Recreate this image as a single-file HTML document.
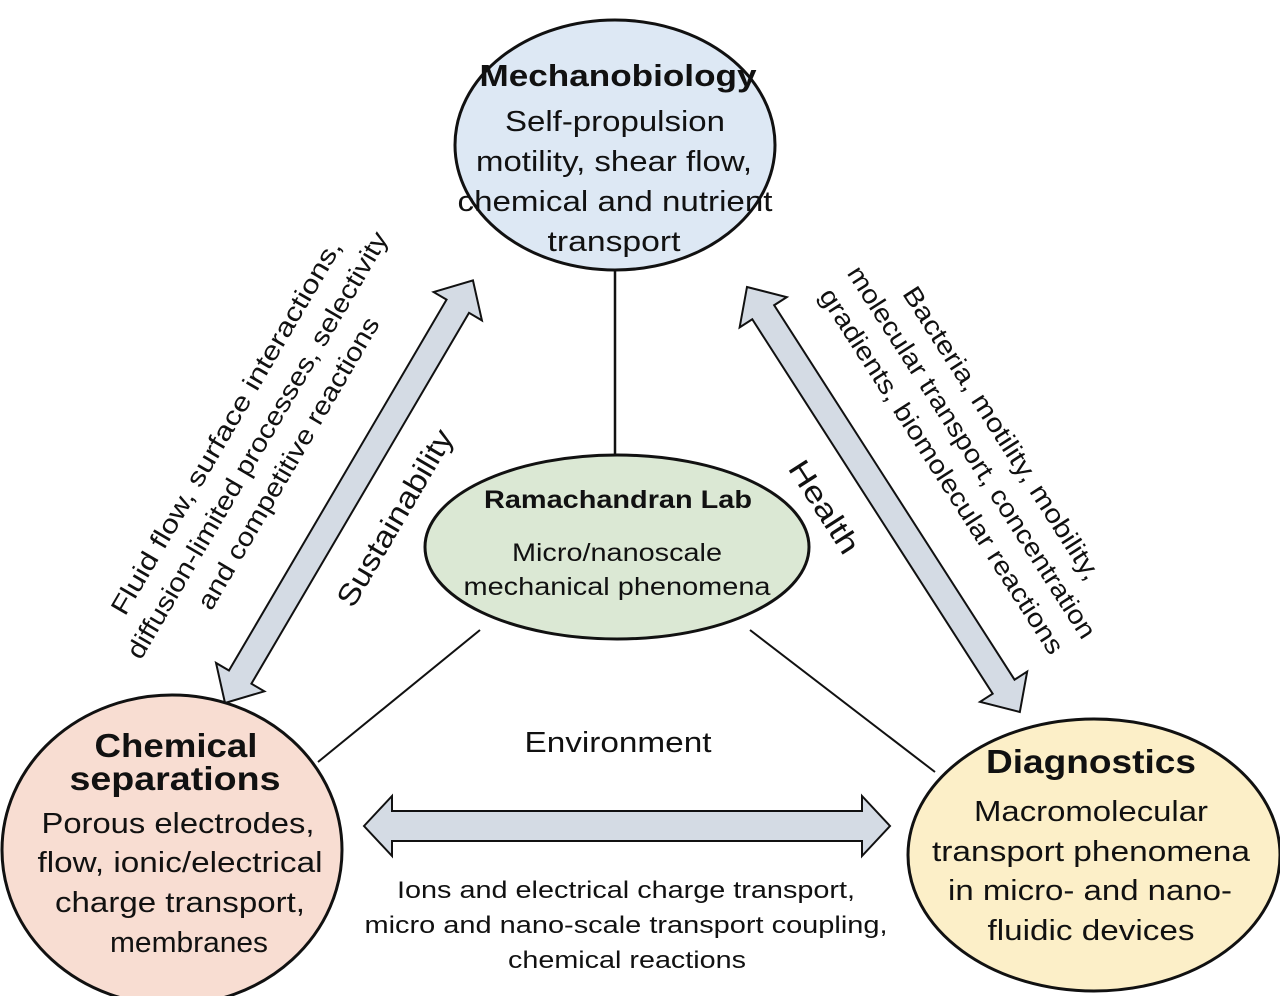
<!DOCTYPE html>
<html><head><meta charset="utf-8"><style>
html,body{margin:0;padding:0;background:#fff}
svg{display:block}
text{font-family:"Liberation Sans",Arial,sans-serif;fill:#111}
</style></head><body>
<svg width="1280" height="996" viewBox="0 0 1280 996" xmlns="http://www.w3.org/2000/svg">
<line x1="615" y1="268" x2="615" y2="458" stroke="#111" stroke-width="2.5"/>
<line x1="480" y1="630" x2="318" y2="762" stroke="#111" stroke-width="2"/>
<line x1="750" y1="630" x2="935" y2="772" stroke="#111" stroke-width="2"/>

<g fill="#d4dbe4" stroke="#111" stroke-width="2" stroke-linejoin="miter">
<polygon transform="translate(225,703) rotate(-59.6)" points="0,0 30,-28 30,-13 460,-13 460,-28 490,0 460,28 460,13 30,13 30,28"/>
<polygon transform="translate(747,287) rotate(57.3)" points="0,0 30,-28 30,-13 475,-13 475,-28 505,0 475,28 475,13 30,13 30,28"/>
<polygon transform="translate(364,826)" points="0,0 28,-30 28,-15 498,-15 498,-30 526,0 498,30 498,15 28,15 28,30"/>
</g>

<ellipse cx="615" cy="145" rx="160" ry="125" fill="#dde8f4" stroke="#111" stroke-width="3"/>
<ellipse cx="617" cy="547" rx="192" ry="92" fill="#dbe8d4" stroke="#111" stroke-width="3"/>
<ellipse cx="172" cy="850" rx="170" ry="155" fill="#f8ddd2" stroke="#111" stroke-width="3"/>
<ellipse cx="1094" cy="855" rx="186" ry="136" fill="#fcefc8" stroke="#111" stroke-width="3"/>

<g text-anchor="middle">
<text x="618" y="86" font-size="31" font-weight="bold" textLength="277" lengthAdjust="spacingAndGlyphs">Mechanobiology</text>
<text x="615" y="131" font-size="29" textLength="220" lengthAdjust="spacingAndGlyphs">Self-propulsion</text>
<text x="614" y="171" font-size="29" textLength="276" lengthAdjust="spacingAndGlyphs">motility, shear flow,</text>
<text x="615" y="211" font-size="29" textLength="315" lengthAdjust="spacingAndGlyphs">chemical and nutrient</text>
<text x="614" y="251" font-size="29" textLength="133" lengthAdjust="spacingAndGlyphs">transport</text>

<text x="618" y="508" font-size="25" font-weight="bold" textLength="268" lengthAdjust="spacingAndGlyphs">Ramachandran Lab</text>
<text x="617" y="561" font-size="25" textLength="210" lengthAdjust="spacingAndGlyphs">Micro/nanoscale</text>
<text x="617" y="595" font-size="25" textLength="307" lengthAdjust="spacingAndGlyphs">mechanical phenomena</text>

<text x="176" y="757" font-size="33" font-weight="bold" textLength="163" lengthAdjust="spacingAndGlyphs">Chemical</text>
<text x="175" y="790" font-size="33" font-weight="bold" textLength="211" lengthAdjust="spacingAndGlyphs">separations</text>
<text x="178" y="833" font-size="29" textLength="273" lengthAdjust="spacingAndGlyphs">Porous electrodes,</text>
<text x="180" y="872" font-size="29" textLength="285" lengthAdjust="spacingAndGlyphs">flow, ionic/electrical</text>
<text x="180" y="912" font-size="29" textLength="250" lengthAdjust="spacingAndGlyphs">charge transport,</text>
<text x="189" y="952" font-size="29" textLength="158" lengthAdjust="spacingAndGlyphs">membranes</text>

<text x="1091" y="773" font-size="33" font-weight="bold" textLength="210" lengthAdjust="spacingAndGlyphs">Diagnostics</text>
<text x="1091" y="821" font-size="29" textLength="234" lengthAdjust="spacingAndGlyphs">Macromolecular</text>
<text x="1091" y="861" font-size="29" textLength="318" lengthAdjust="spacingAndGlyphs">transport phenomena</text>
<text x="1090" y="900" font-size="29" textLength="284" lengthAdjust="spacingAndGlyphs">in micro- and nano-</text>
<text x="1091" y="940" font-size="29" textLength="207" lengthAdjust="spacingAndGlyphs">fluidic devices</text>

<text x="618" y="752" font-size="29" textLength="187" lengthAdjust="spacingAndGlyphs">Environment</text>
<text x="626" y="898" font-size="24" textLength="458" lengthAdjust="spacingAndGlyphs">Ions and electrical charge transport,</text>
<text x="626" y="933" font-size="24" textLength="523" lengthAdjust="spacingAndGlyphs">micro and nano-scale transport coupling,</text>
<text x="627" y="968" font-size="24" textLength="238" lengthAdjust="spacingAndGlyphs">chemical reactions</text>

<text transform="translate(226,427) rotate(-59.6)" y="9" font-size="26" textLength="430" lengthAdjust="spacingAndGlyphs">Fluid flow, surface interactions,</text>
<text transform="translate(257,445) rotate(-59.6)" y="9" font-size="26" textLength="490" lengthAdjust="spacingAndGlyphs">diffusion-limited processes, selectivity</text>
<text transform="translate(288,463) rotate(-59.6)" y="9" font-size="26" textLength="334" lengthAdjust="spacingAndGlyphs">and competitive reactions</text>
<text transform="translate(395,518) rotate(-59.6)" y="10" font-size="30" textLength="200" lengthAdjust="spacingAndGlyphs">Sustainability</text>

<text transform="translate(1002,433) rotate(57.3)" y="9" font-size="26" textLength="343" lengthAdjust="spacingAndGlyphs">Bacteria, motility, mobility,</text>
<text transform="translate(972,452) rotate(57.3)" y="9" font-size="26" textLength="437" lengthAdjust="spacingAndGlyphs">molecular transport, concentration</text>
<text transform="translate(942,471) rotate(57.3)" y="9" font-size="26" textLength="429" lengthAdjust="spacingAndGlyphs">gradients, biomolecular reactions</text>
<text transform="translate(824,507) rotate(57.3)" y="10" font-size="30" textLength="105" lengthAdjust="spacingAndGlyphs">Health</text>
</g>
</svg>
</body></html>
